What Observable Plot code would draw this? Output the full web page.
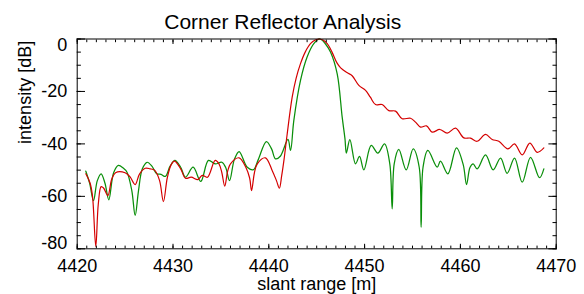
<!DOCTYPE html>
<html><head><meta charset="utf-8">
<script src="https://cdn.jsdelivr.net/npm/d3@7"></script>
<script src="https://cdn.jsdelivr.net/npm/@observablehq/plot@0.6"></script>
<style>
body{margin:0;background:#fff}
svg{font-family:"Liberation Sans",Arial,sans-serif}
</style>
</head><body><div id="chart"></div>
<script>
const title = "Corner Reflector Analysis";
const xLabel = "slant range [m]";
const yLabel = "intensity [dB]";

const redX = [4420.9,4421.35,4421.6,4421.94,4422.2,4422.5,4422.75,4423.2,4423.6,4424.0,4425.0,4425.5,4426.05,4426.5,4427.1,4427.6,4428.1,4428.6,4429.0,4429.4,4429.8,4430.15,4430.8,4431.3,4431.9,4432.6,4433.05,4433.6,4434.4,4434.8,4435.1,4435.4,4435.7,4436.0,4436.9,4437.6,4438.0,4438.2,4438.5,4438.8,4439.65,4440.35,4440.8,4441.1,4441.35,4441.6,4441.9,4442.44,4442.85,4443.3,4443.8,4444.35,4444.85,4445.3,4445.7,4446.1,4446.6,4447.1,4447.5,4448.2,4448.7,4449.4,4450.1,4450.6,4451.14,4451.83,4452.53,4453.23,4453.92,4454.79,4455.31,4455.84,4456.46,4457.05,4457.85,4458.62,4459.49,4460.36,4461.05,4461.75,4462.62,4463.32,4464.01,4464.95,4465.65,4466.45,4467.25,4468.01,4468.71];
const redY = [-51.4,-55,-60,-79.1,-63,-56.3,-56.8,-59.7,-53.5,-51.0,-51.0,-52.5,-55.5,-51.5,-49.3,-49.5,-50.1,-54,-62.0,-53,-48,-46.6,-49.5,-53.1,-52.7,-53.6,-52.0,-52.7,-46.3,-47.6,-51,-56.1,-50.5,-47.6,-45.3,-48.9,-53,-57.8,-51,-47.6,-45.3,-50.1,-54,-56.9,-52,-45.7,-36.8,-22.2,-15,-9.5,-5,-1.8,-0.4,0,-0.5,-1.8,-5,-9.0,-11.0,-12.9,-14.0,-17.7,-19.6,-22.2,-25.0,-25.0,-27.3,-27.5,-30.4,-30.2,-31.7,-33.6,-33.1,-35.5,-34.5,-35.9,-34.0,-37.7,-37.8,-39.0,-36.4,-38.3,-39.0,-41.9,-40.0,-44.2,-39.7,-43.2,-41.5];

const greenX = [4420.9,4421.3,4421.7,4422.1,4422.5,4422.9,4423.3,4423.8,4424.3,4424.8,4425.2,4425.7,4426.05,4426.4,4426.8,4427.3,4427.8,4428.3,4428.75,4429.2,4429.7,4430.2,4430.8,4431.3,4432.1,4432.9,4433.7,4434.4,4435.1,4435.5,4435.9,4436.4,4436.9,4437.75,4438.4,4438.9,4439.75,4440.3,4440.7,4441.2,4442.0,4442.27,4442.61,4443.31,4444.0,4444.7,4445.33,4445.9,4446.44,4447.14,4447.66,4447.95,4448.1,4448.46,4449.05,4449.47,4449.92,4450.69,4451.38,4452.08,4452.63,4452.88,4453.09,4453.57,4454.34,4455.07,4455.7,4455.9,4456.1,4456.6,4457.58,4457.92,4458.69,4459.59,4460.3,4460.64,4461.0,4461.33,4461.75,4462.62,4463.42,4464.19,4464.88,4465.65,4466.45,4467.32,4468.26,4468.71];
const greenY = [-50.4,-55,-61.6,-54,-51.4,-55,-61.3,-51,-48.2,-49.2,-50.8,-57.8,-67.3,-57.8,-49.5,-47.0,-48.5,-51.4,-51.6,-52.4,-48.5,-46.3,-48.9,-52.7,-48.9,-54.3,-46.3,-47.6,-47.0,-49,-54.0,-46,-42.9,-48.9,-49.8,-46,-39.1,-42,-45.7,-44.7,-38.3,-42.5,-31.1,-15.8,-6.9,-1.8,0,-1.8,-5.0,-13.3,-29.8,-38,-43.5,-38.4,-47.6,-44.8,-49.9,-40.6,-43.5,-40.0,-47.6,-64.8,-47.6,-42.1,-49.9,-41.9,-48.9,-71.8,-48.9,-42.5,-48.9,-46.6,-51.4,-41.5,-48,-55.5,-49,-47.6,-49.5,-44.2,-49.9,-45.4,-51.2,-45.4,-54.6,-45.1,-52.9,-49.5];

const xMajor = [4420,4430,4440,4450,4460,4470];
const xMinor = d3.range(4420, 4471, 1);
const yMajor = [0,-20,-40,-60,-80];
const yMinor = d3.range(-80, 1, 5);

const red = redX.map((x, i) => ({x, y: redY[i]}));
const green = greenX.map((x, i) => ({x, y: greenY[i]}));

const fmt = d => `${d}`;
const none = () => "";
const axStroke = {stroke: "#000", strokeWidth: 1};

const chart = Plot.plot({
  width: 584, height: 294,
  marginLeft: 76.7, marginRight: 28.3, marginTop: 38.5, marginBottom: 45.7,
  style: {fontFamily: '"Liberation Sans", Arial, sans-serif', fontSize: "18px", color: "#000", background: "#fff"},
  x: {domain: [4420, 4470]},
  y: {domain: [-80, 0]},
  marks: [
    Plot.line(green, {x: "x", y: "y", stroke: "#0a8f0a", strokeWidth: 1.25, curve: "catmull-rom"}),
    Plot.line(red, {x: "x", y: "y", stroke: "#d40000", strokeWidth: 1.2, curve: "catmull-rom"}),
    Plot.axisX(xMinor, {anchor: "bottom", tickSize: -2.7, tickFormat: none, label: null, ...axStroke}),
    Plot.axisX(xMajor, {anchor: "bottom", tickSize: -4.5, tickFormat: none, label: null, ...axStroke}),
    Plot.axisX(xMinor, {anchor: "top", tickSize: -2.7, tickFormat: none, label: null, ...axStroke}),
    Plot.axisX(xMajor, {anchor: "top", tickSize: -4.5, tickFormat: none, label: null, ...axStroke}),
    Plot.axisY(yMinor, {anchor: "left", tickSize: -4.2, tickFormat: none, label: null, ...axStroke}),
    Plot.axisY(yMajor, {anchor: "left", tickSize: -8.3, tickFormat: none, label: null, ...axStroke}),
    Plot.axisY(yMinor, {anchor: "right", tickSize: -4.2, tickFormat: none, label: null, ...axStroke}),
    Plot.axisY(yMajor, {anchor: "right", tickSize: -8.3, tickFormat: none, label: null, ...axStroke}),
    Plot.axisX(xMajor, {anchor: "bottom", tickSize: 0, tickPadding: 10, tickFormat: fmt, label: null, fill: "#000"}),
    Plot.axisY([-20, -40, -60], {anchor: "left", tickSize: 0, tickPadding: 10, tickFormat: fmt, label: null, fill: "#000"}),
    Plot.axisY([0], {anchor: "left", tickSize: 0, tickPadding: 10, tickFormat: fmt, label: null, fill: "#000", dy: 6.5}),
    Plot.axisY([-80], {anchor: "left", tickSize: 0, tickPadding: 10, tickFormat: fmt, label: null, fill: "#000", dy: -6}),
    Plot.frame({stroke: "#000", strokeWidth: 1}),
    Plot.text([xLabel], {frameAnchor: "bottom", text: d => d, dy: 41.5, lineAnchor: "bottom", fontSize: 18, fill: "#000"}),
    Plot.text([yLabel], {frameAnchor: "left", text: d => d, dx: -52, rotate: -90, fontSize: 18, fill: "#000"}),
    Plot.text([title], {frameAnchor: "top", text: d => d, dx: -34, dy: -10.2, lineAnchor: "bottom", fontSize: 21, fill: "#000"})
  ]
});
document.getElementById("chart").appendChild(chart);
</script>
</body></html>
